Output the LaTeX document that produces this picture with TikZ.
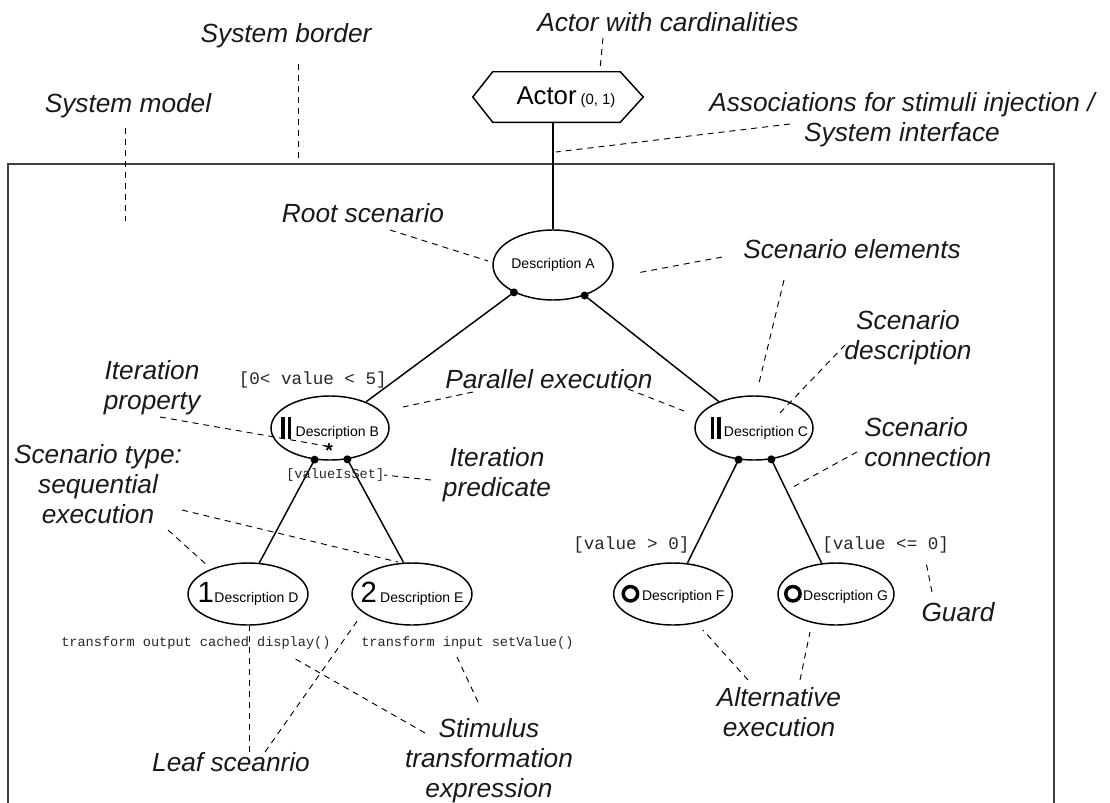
\documentclass[tikz,border=0pt]{standalone}
\usepackage{fontspec}
\setmainfont{Liberation Sans}
\setmonofont{Liberation Mono}
\usetikzlibrary{shapes.geometric,calc}

% parallel marker (two thick bars) and alternative marker (thick ring)
\newcommand{\dbar}{\rule[-1.5pt]{2.6pt}{16.5pt}\hspace{2.2pt}\rule[-1.5pt]{2.6pt}{16.5pt}}
\newcommand{\ringmark}{\tikz[baseline=-4.9pt]\draw[line width=2.6pt] (0,0) circle[radius=5.4pt];}
\newcommand{\bignum}[1]{{\fontsize{22}{24}\selectfont #1}}

\tikzset{
  lbl/.style={font=\fontsize{19.7}{22.5}\selectfont\itshape, inner sep=0pt, align=center, text=black!90},
  scen/.style={ellipse, draw, line width=1.1pt, inner sep=0pt, font=\fontsize{10.5}{12}\selectfont},
  guardtxt/.style={font=\ttfamily\fontsize{13.2}{15}\selectfont, inner sep=0pt, text=black!85},
  smalltt/.style={font=\ttfamily\fontsize{10.2}{12}\selectfont, inner sep=0pt, text=black!85},
  lead/.style={draw, line width=0.7pt, dash pattern=on 4.5pt off 3.75pt},
  conn/.style={draw, line width=1.1pt},
  joint/.style={circle, fill, inner sep=0pt, minimum size=6pt}
}

\begin{document}
\begin{tikzpicture}[x=0.75pt,y=-0.75pt]
\useasboundingbox (0,0) rectangle (1110,803);

% system border, open at the bottom
\draw[line width=1.5pt, black!75] (8,815) -- (8,164) -- (1054,164) -- (1054,815);

% actor
\node[inner sep=0pt, minimum width=127.5pt, minimum height=37.5pt] (actor) at (558,97)
  {\makebox[0pt]{\hspace{12pt}\fontsize{19.3}{22}\selectfont Actor\hspace{3pt}\fontsize{11.2}{13}\selectfont(0, 1)}};
\draw[line width=1.1pt] (actor.west) -- ([xshift=15pt]actor.north west) -- ([xshift=-17.25pt]actor.north east)
  -- (actor.east) -- ([xshift=-17.25pt]actor.south east) -- ([xshift=15pt]actor.south west) -- cycle;

% scenarios
\node[scen, minimum width=90pt, minimum height=52.5pt] (A) at (553,265) {\makebox[0pt]{Description A}};
\node[scen, minimum width=88.5pt, minimum height=48pt] (B) at (330,428) {\makebox[0pt]{\dbar\hspace{3.5pt}Description B}};
\node[scen, minimum width=88.5pt, minimum height=48pt] (C) at (754,428) {\makebox[0pt]{\hspace{8pt}\dbar\hspace{2.5pt}Description C}};
\node[scen, minimum width=90pt, minimum height=46.5pt] (D) at (248,594) {\makebox[0pt]{\bignum{1}\hspace{0.5pt}Description D}};
\node[scen, minimum width=90pt, minimum height=46.5pt] (E) at (412,594) {\makebox[0pt]{\bignum{2}\hspace{2.5pt}Description E}};
\node[scen, minimum width=89pt, minimum height=46.5pt] (F) at (673,594) {\makebox[0pt]{\ringmark\hspace{2pt}Description F}};
\node[scen, minimum width=87pt, minimum height=46.5pt] (G) at (836,594) {\makebox[0pt]{\ringmark\hspace{1pt}Description G}};

% iteration marker
\node[font=\bfseries\fontsize{15}{15}\selectfont, inner sep=0pt] (iter) at (329,451) {*};

% scenario connections
\draw[conn] (A.north) -- (A.north |- actor.south);
\node[joint] (a1) at (A.215) {};
\node[joint] (a2) at (A.316) {};
\node[joint] (b1) at (B.244) {};
\node[joint] (b2) at (B.299) {};
\node[joint] (c1) at (C.244) {};
\node[joint] (c2) at (C.299) {};
\draw[conn] (a1.center) -- (B.36);
\draw[conn] (a2.center) -- (C.143);
\draw[conn] (b1.center) -- (D.70);
\draw[conn] (b2.center) -- (E.105);
\draw[conn] (c1.center) -- (F.65);
\draw[conn] (c2.center) -- (G.115);

% guards, predicates and transformations
\node[guardtxt, anchor=east] (g1) at (387,380) {[0< value < 5]};
\node[smalltt, anchor=west] (p1) at (286,475) {[valueIsSet]};
\node[guardtxt, anchor=west] (g2) at (573,545) {[value > 0]};
\node[guardtxt, anchor=west] (g3) at (822,545) {[value <= 0]};
\node[smalltt, anchor=west] (t1) at (61,643) {transform output cached display()};
\node[smalltt, anchor=west] (t2) at (361,643) {transform input setValue()};

% annotation labels
\node[lbl, anchor=west] (lActor) at (537,22) {Actor with cardinalities};
\node[lbl] (lBorder) at (286,36) {System border};
\node[lbl] (lModel) at (128,106) {System model};
\node[lbl] (lAssoc) at (902,120) {Associations for stimuli injection /\\System interface};
\node[lbl] (lRoot) at (363,213) {Root scenario};
\node[lbl, anchor=west] (lElem) at (743,249) {Scenario elements};
\node[lbl] (lDesc) at (908,338) {Scenario\\description};
\node[lbl] (lIterP) at (152,388) {Iteration\\property};
\node[lbl, anchor=west] (lPar) at (445,379) {Parallel execution};
\node[lbl] (lType) at (98,484) {Scenario type:\\sequential\\execution};
\node[lbl] (lPred) at (497,475) {Iteration\\predicate};
\node[lbl, align=left, anchor=west] (lConn) at (864,442) {Scenario\\connection};
\node[lbl] (lGuard) at (958,612) {Guard};
\node[lbl] (lAlt) at (779,712) {Alternative\\execution};
\node[lbl] (lStim) at (489,761) {Stimulus\\transformation\\expression};
\node[lbl] (lLeaf) at (231,762) {Leaf sceanrio};

% leader line end points
\coordinate (ac1) at (603,38);  \coordinate (ac2) at (600,69);
\coordinate (bo1) at (298,64);  \coordinate (bo2) at (298,161);
\coordinate (mo1) at (125,128); \coordinate (mo2) at (125,221);
\coordinate (as1) at (790,124); \coordinate (as2) at (556,152);
\coordinate (ro1) at (390,230); \coordinate (ro2) at (488,261);
\coordinate (el1) at (722,257); \coordinate (el2) at (637,273);
\coordinate (el3) at (784,280); \coordinate (el4) at (759,383);
\coordinate (de1) at (845,345); \coordinate (de2) at (778,415);
\coordinate (pa1) at (473,392); \coordinate (pa2) at (403,407);
\coordinate (pa3) at (628,389); \coordinate (pa4) at (684,411);
\coordinate (ip1) at (160,417); \coordinate (ip2) at (326,446);
\coordinate (pr1) at (431,480); \coordinate (pr2) at (384,475);
\coordinate (ty1) at (182,510); \coordinate (ty2) at (398,562);
\coordinate (ty3) at (168,530); \coordinate (ty4) at (208,566);
\coordinate (co1) at (857,452); \coordinate (co2) at (793,487);
\coordinate (gu1) at (932,592); \coordinate (gu2) at (926,562);
\coordinate (al1) at (748,680); \coordinate (al2) at (703,630);
\coordinate (al3) at (800,680); \coordinate (al4) at (810,632);
\coordinate (st1) at (425,733); \coordinate (st2) at (292,657);
\coordinate (st3) at (478,702); \coordinate (st4) at (457,657);
\coordinate (le1) at (249,752); \coordinate (le2) at (249,626);
\coordinate (le3) at (265,752); \coordinate (le4) at (360,617);

% leader lines
\draw[lead] (ac1) -- (ac2);
\draw[lead] (bo1) -- (bo2);
\draw[lead] (mo1) -- (mo2);
\draw[lead] (as1) -- (as2);
\draw[lead] (ro1) -- (ro2);
\draw[lead] (el1) -- (el2);
\draw[lead] (el3) -- (el4);
\draw[lead] (de1) -- (de2);
\draw[lead] (pa1) -- (pa2);
\draw[lead] (pa3) -- (pa4);
\draw[lead] (ip1) -- (ip2);
\draw[lead] (pr1) -- (pr2);
\draw[lead] (ty1) -- (ty2);
\draw[lead] (ty3) -- (ty4);
\draw[lead] (co1) -- (co2);
\draw[lead] (gu1) -- (gu2);
\draw[lead] (al1) -- (al2);
\draw[lead] (al3) -- (al4);
\draw[lead] (st1) -- (st2);
\draw[lead] (st3) -- (st4);
\draw[lead] (le1) -- (le2);
\draw[lead] (le3) -- (le4);
\end{tikzpicture}
\end{document}
